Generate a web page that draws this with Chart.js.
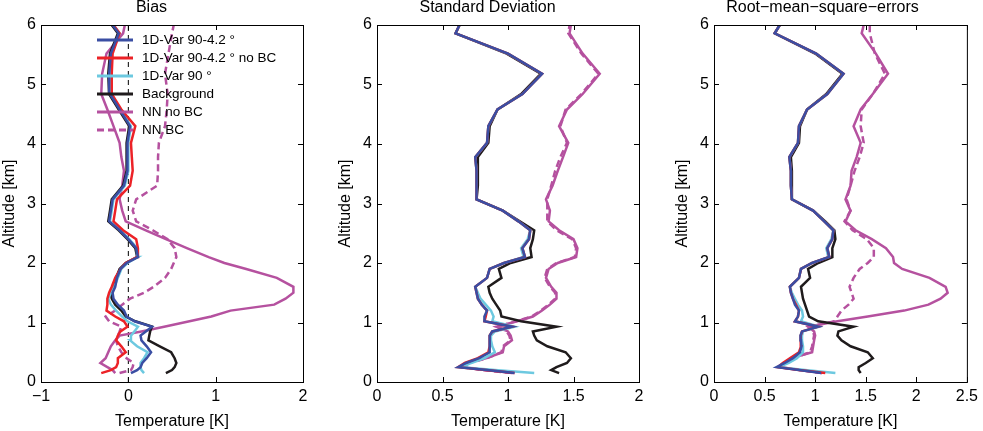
<!DOCTYPE html>
<html lang="en">
<head>
<meta charset="UTF-8">
<title>1D-Var and NN retrieval statistics</title>
<script src="https://cdn.jsdelivr.net/npm/chart.js"></script>
<style>
    body {
        margin: 0;
        background: #fff;
        font-family: 'Liberation Sans', Arial, sans-serif;
    }

    #wrap {
        position: relative;
        width: 983px;
        height: 431px;
        overflow: hidden;
    }

    canvas {
        position: absolute;
        top: 0;
    }

    #biasChart { left: 0; }
    #sdChart { left: 336px; }
    #rmseChart { left: 673px; }
</style>
</head>
<body>
<div id="wrap">
    <canvas id="biasChart" width="318" height="431"></canvas>
    <canvas id="sdChart" width="318" height="431"></canvas>
    <canvas id="rmseChart" width="310" height="431"></canvas>
</div>

<script>
    // altitude levels (km) shared by every profile
    const altitudes = [0.15, 0.2, 0.25, 0.32, 0.4, 0.5, 0.6, 0.7, 0.78, 0.85, 0.93, 1.02, 1.1, 1.2, 1.3, 1.4, 1.5, 1.6, 1.75, 1.9,
        2.0, 2.1, 2.25, 2.4, 2.55, 2.7, 2.88, 3.07, 3.3, 3.55, 3.78, 4.02, 4.3, 4.58, 4.84, 5.18, 5.52, 5.86, 6.0];

    const seriesLabels = ['1D-Var 90-4.2 °', '1D-Var 90-4.2 ° no BC', '1D-Var 90 °', 'Background', 'NN no BC', 'NN BC'];

    const altTicks = [0, 1, 2, 3, 4, 5, 6];
    const biasTicks = [-1, 0, 1, 2];
    const sdTicks = [0, 0.5, 1, 1.5, 2];
    const rmseTicks = [0, 0.5, 1, 1.5, 2, 2.5];

    // bias (K)
    const biasVar = [0.03, 0.1, 0.14, 0.16, 0.21, 0.26, 0.21, 0.15, 0.14, 0.2, 0.27, 0.07, -0.02, -0.05, -0.12, -0.17, -0.18, -0.15, -0.13, -0.09,
        -0.02, 0.11, 0.09, 0.0, -0.1, -0.22, -0.2, -0.18, -0.05, -0.01, -0.01, -0.01, 0.02, -0.1, -0.21, -0.22, -0.2, -0.11, -0.18];
    const biasVarNoBc = [-0.31, -0.2, -0.14, -0.12, -0.12, -0.03, -0.08, -0.14, -0.12, -0.09, -0.01, -0.05, -0.15, -0.25, -0.24, -0.24, -0.22, -0.19, -0.15, -0.09,
        -0.03, 0.1, 0.11, 0.09, -0.06, -0.17, -0.15, -0.13, 0.02, 0.05, 0.04, 0.03, 0.08, -0.08, -0.19, -0.19, -0.18, -0.1, -0.17];
    const biasVar90 = [0.18, 0.15, 0.14, 0.14, 0.18, 0.22, 0.1, 0.02, 0.03, 0.07, 0.11, -0.01, -0.07, -0.14, -0.2, -0.23, -0.2, -0.16, -0.12, -0.08,
        -0.01, 0.11, 0.1, 0.01, -0.09, -0.21, -0.19, -0.17, -0.04, 0.0, 0.0, 0.0, 0.03, -0.09, -0.2, -0.21, -0.19, -0.1, -0.17];
    const biasBackground = [0.43, 0.5, 0.53, 0.55, 0.53, 0.49, 0.36, 0.23, 0.24, 0.25, 0.27, 0.08, -0.03, -0.08, -0.15, -0.19, -0.2, -0.16, -0.14, -0.1,
        -0.03, 0.1, 0.08, -0.01, -0.11, -0.23, -0.21, -0.19, -0.06, -0.02, -0.02, -0.02, 0.01, -0.11, -0.22, -0.23, -0.21, -0.12, -0.19];
    const biasNnNoBc = [-0.15, -0.18, -0.24, -0.32, -0.26, -0.23, -0.2, -0.15, -0.1, 0.15, 0.41, 0.7, 0.95, 1.17, 1.67, 1.8, 1.89, 1.89, 1.7, 1.35,
        1.1, 0.92, 0.67, 0.43, 0.2, -0.03, -0.07, -0.1, -0.07, -0.05, -0.08, -0.1, -0.17, -0.24, -0.31, -0.3, -0.25, -0.06, -0.04];
    const biasNnBc = [-0.1, 0.03, 0.05, 0.06, -0.02, -0.08, -0.12, -0.14, -0.12, -0.1, -0.08, -0.22, -0.26, -0.15, -0.07, 0.02, 0.18, 0.29, 0.42, 0.49,
        0.52, 0.55, 0.53, 0.45, 0.28, 0.09, 0.05, 0.09, 0.33, 0.34, 0.34, 0.35, 0.42, 0.44, 0.45, 0.42, 0.46, 0.5, 0.52];

    // standard deviation (K)
    const sdVar = [1.05, 0.84, 0.62, 0.68, 0.78, 0.86, 0.86, 0.86, 0.86, 0.88, 1.03, 0.82, 0.82, 0.84, 0.8, 0.77, 0.76, 0.75, 0.84, 0.86,
        0.97, 1.13, 1.11, 1.16, 1.17, 1.08, 0.96, 0.76, 0.76, 0.76, 0.75, 0.84, 0.85, 0.92, 1.11, 1.26, 1.0, 0.6, 0.63];
    const sdVarNoBc = [1.05, 0.83, 0.62, 0.67, 0.77, 0.85, 0.86, 0.86, 0.86, 0.88, 1.03, 0.82, 0.83, 0.84, 0.8, 0.77, 0.76, 0.75, 0.84, 0.86,
        0.97, 1.13, 1.11, 1.16, 1.17, 1.08, 0.96, 0.76, 0.76, 0.76, 0.75, 0.84, 0.85, 0.92, 1.11, 1.26, 1.0, 0.6, 0.63];
    const sdVar90 = [1.2, 0.9, 0.65, 0.72, 0.82, 0.9, 0.88, 0.87, 0.87, 0.9, 1.05, 0.88, 0.89, 0.87, 0.83, 0.79, 0.77, 0.75, 0.84, 0.86,
        0.97, 1.12, 1.1, 1.15, 1.17, 1.08, 0.96, 0.76, 0.76, 0.76, 0.75, 0.84, 0.85, 0.92, 1.11, 1.26, 1.0, 0.6, 0.63];
    const sdBackground = [1.39, 1.33, 1.37, 1.45, 1.48, 1.44, 1.3, 1.22, 1.2, 1.19, 1.37, 1.1, 0.95, 0.94, 0.91, 0.88, 0.86, 0.85, 0.95, 0.93,
        1.02, 1.18, 1.17, 1.19, 1.2, 1.09, 0.96, 0.76, 0.77, 0.77, 0.77, 0.85, 0.86, 0.92, 1.1, 1.25, 0.99, 0.6, 0.63];
    const sdNnNoBc = [1.04, 0.82, 0.66, 0.69, 0.83, 0.96, 0.97, 1.03, 1.02, 1.0, 0.91, 1.07, 1.19, 1.26, 1.32, 1.37, 1.37, 1.33, 1.29, 1.31,
        1.38, 1.52, 1.53, 1.5, 1.39, 1.31, 1.32, 1.29, 1.34, 1.38, 1.42, 1.46, 1.39, 1.45, 1.57, 1.7, 1.57, 1.47, 1.48];
    const sdNnBc = [1.03, 0.81, 0.65, 0.7, 0.84, 0.95, 0.96, 1.02, 1.01, 0.99, 0.92, 1.06, 1.18, 1.25, 1.31, 1.36, 1.36, 1.32, 1.28, 1.3,
        1.37, 1.51, 1.52, 1.49, 1.37, 1.3, 1.3, 1.3, 1.33, 1.36, 1.4, 1.45, 1.4, 1.44, 1.56, 1.69, 1.56, 1.46, 1.47];

    // root-mean-square errors (K)
    const rmseVar = [1.06, 0.84, 0.62, 0.7, 0.78, 0.85, 0.865, 0.86, 0.855, 0.87, 1.03, 0.8, 0.83, 0.84, 0.8, 0.78, 0.76, 0.75, 0.84, 0.86,
        0.97, 1.14, 1.12, 1.17, 1.18, 1.09, 0.98, 0.77, 0.76, 0.76, 0.745, 0.83, 0.84, 0.92, 1.12, 1.28, 1.01, 0.6, 0.65];
    const rmseVarNoBc = [1.1, 0.84, 0.63, 0.68, 0.75, 0.84, 0.86, 0.86, 0.855, 0.87, 1.03, 0.8, 0.83, 0.84, 0.81, 0.78, 0.76, 0.75, 0.84, 0.86,
        0.97, 1.14, 1.12, 1.17, 1.18, 1.09, 0.98, 0.77, 0.76, 0.76, 0.745, 0.83, 0.84, 0.92, 1.12, 1.28, 1.01, 0.6, 0.65];
    const rmseVar90 = [1.2, 0.9, 0.64, 0.74, 0.82, 0.88, 0.88, 0.87, 0.87, 0.88, 1.04, 0.86, 0.88, 0.87, 0.83, 0.8, 0.77, 0.75, 0.84, 0.86,
        0.97, 1.13, 1.11, 1.16, 1.18, 1.09, 0.98, 0.77, 0.76, 0.76, 0.745, 0.83, 0.84, 0.92, 1.12, 1.28, 1.01, 0.6, 0.65];
    const rmseBackground = [1.45, 1.43, 1.43, 1.5, 1.57, 1.52, 1.35, 1.26, 1.22, 1.23, 1.38, 1.03, 0.94, 0.92, 0.9, 0.88, 0.87, 0.86, 0.95, 0.93,
        1.03, 1.17, 1.17, 1.2, 1.19, 1.1, 0.98, 0.77, 0.77, 0.77, 0.76, 0.84, 0.85, 0.92, 1.11, 1.27, 1.0, 0.6, 0.65];
    const rmseNnNoBc = [1.07, 0.85, 0.65, 0.7, 0.76, 0.97, 0.98, 0.99, 1.0, 0.99, 0.93, 1.22, 1.52, 1.88, 2.12, 2.24, 2.31, 2.29, 2.13, 1.86,
        1.78, 1.77, 1.7, 1.56, 1.4, 1.3, 1.35, 1.3, 1.35, 1.36, 1.41, 1.45, 1.38, 1.45, 1.57, 1.72, 1.6, 1.46, 1.48];
    const rmseNnBc = [1.07, 0.85, 0.66, 0.71, 0.78, 0.95, 0.97, 0.98, 0.99, 0.98, 0.95, 1.19, 1.22, 1.26, 1.33, 1.38, 1.36, 1.34, 1.38, 1.44,
        1.52, 1.58, 1.58, 1.51, 1.37, 1.29, 1.35, 1.31, 1.35, 1.39, 1.44, 1.48, 1.45, 1.46, 1.57, 1.69, 1.59, 1.54, 1.54];

    // line styles, same order as the labels
    const seriesColors = ['#3a4ea3', '#ec2227', '#6dc9e0', '#1f1b1c', '#b5519f', '#b5519f'];
    const seriesDash = [[], [], [], [], [], [7, 4]];

    const textFont = { family: "'Liberation Sans', Arial, sans-serif", size: 16, weight: 'normal' };

    function profile(values) {
        return values.map((v, i) => ({ x: v, y: altitudes[i] }));
    }

    function buildDatasets(series) {
        return series.map((values, i) => ({
            label: seriesLabels[i],
            data: profile(values),
            showLine: true,
            borderColor: seriesColors[i],
            borderWidth: 2.5,
            borderDash: seriesDash[i],
            pointRadius: 0,
            pointHoverRadius: 0,
            fill: false,
            tension: 0
        }));
    }

    // MATLAB style box with inward ticks
    const frameTicks = {
        id: 'frameTicks',
        afterDatasetsDraw(chart) {
            const { ctx, chartArea: a, scales: { x, y } } = chart;
            ctx.save();
            ctx.strokeStyle = '#000';
            ctx.lineWidth = 1;
            ctx.setLineDash([]);
            ctx.strokeRect(a.left + 0.5, a.top + 0.5, a.right - a.left, a.bottom - a.top);
            ctx.beginPath();
            x.ticks.forEach(t => {
                const px = Math.round(x.getPixelForValue(t.value)) + 0.5;
                ctx.moveTo(px, a.bottom); ctx.lineTo(px, a.bottom - 5);
                ctx.moveTo(px, a.top); ctx.lineTo(px, a.top + 5);
            });
            y.ticks.forEach(t => {
                const py = Math.round(y.getPixelForValue(t.value)) + 0.5;
                ctx.moveTo(a.left, py); ctx.lineTo(a.left + 5, py);
                ctx.moveTo(a.right, py); ctx.lineTo(a.right - 5, py);
            });
            ctx.stroke();
            ctx.restore();
        }
    };

    // legend sits inside the bias panel
    const insideLegend = {
        id: 'insideLegend',
        afterDraw(chart) {
            const { ctx, chartArea: a } = chart;
            const x0 = a.left + 56, y0 = a.top + 15, step = 18;
            ctx.save();
            ctx.font = "13.5px 'Liberation Sans', Arial, sans-serif";
            ctx.textBaseline = 'middle';
            ctx.fillStyle = '#000';
            seriesLabels.forEach((label, i) => {
                const yy = y0 + i * step;
                ctx.strokeStyle = seriesColors[i];
                ctx.lineWidth = 3;
                ctx.setLineDash(seriesDash[i]);
                ctx.beginPath();
                ctx.moveTo(x0, yy);
                ctx.lineTo(x0 + 36, yy);
                ctx.stroke();
                ctx.fillText(label, x0 + 45, yy);
            });
            ctx.restore();
        }
    };

    function makePanel(id, title, series, xMin, xMax, xTicks, rightPad, extraSets, extraPlugins) {
        const sets = buildDatasets(series).concat(extraSets || []);
        return new Chart(document.getElementById(id), {
            type: 'scatter',
            data: { datasets: sets },
            options: {
                responsive: false,
                animation: false,
                events: [],
                layout: { padding: { left: 0, right: rightPad, top: 0, bottom: 0 } },
                plugins: {
                    legend: { display: false },
                    tooltip: { enabled: false },
                    title: {
                        display: true,
                        text: title,
                        color: '#000',
                        font: { ...textFont, lineHeight: 1 },
                        padding: { top: 0, bottom: 9 }
                    }
                },
                scales: {
                    x: {
                        type: 'linear',
                        min: xMin,
                        max: xMax,
                        afterBuildTicks: s => { s.ticks = xTicks.map(v => ({ value: v })); },
                        afterFit: s => { s.height = 49; },
                        grid: { display: false, drawTicks: false },
                        border: { display: false },
                        ticks: {
                            padding: 5,
                            color: '#000',
                            font: textFont,
                            autoSkip: false,
                            maxRotation: 0,
                            callback: v => String(v).replace('-', '\u2212')
                        },
                        title: { display: true, text: 'Temperature [K]', color: '#000', font: textFont, padding: 0 }
                    },
                    y: {
                        type: 'linear',
                        min: 0,
                        max: 6,
                        afterBuildTicks: s => { s.ticks = altTicks.map(v => ({ value: v })); },
                        afterFit: s => { s.width = 41; },
                        grid: { display: false, drawTicks: false },
                        border: { display: false },
                        ticks: { padding: 5, color: '#000', font: textFont, autoSkip: false },
                        title: { display: true, text: 'Altitude [km]', color: '#000', font: textFont, padding: 0 }
                    }
                }
            },
            plugins: [frameTicks].concat(extraPlugins || [])
        });
    }

    // dashed zero reference in the bias panel
    const zeroLine = {
        label: 'zero',
        data: [{ x: 0, y: 0 }, { x: 0, y: 6 }],
        showLine: true,
        borderColor: '#000',
        borderWidth: 1,
        borderDash: [5, 4],
        pointRadius: 0,
        fill: false
    };

    makePanel('biasChart', 'Bias',
        [biasVar, biasVarNoBc, biasVar90, biasBackground, biasNnNoBc, biasNnBc],
        -1, 2, biasTicks, 15, [zeroLine], [insideLegend]);

    makePanel('sdChart', 'Standard Deviation',
        [sdVar, sdVarNoBc, sdVar90, sdBackground, sdNnNoBc, sdNnBc],
        0, 2, sdTicks, 15);

    makePanel('rmseChart', 'Root\u2212mean\u2212square\u2212errors',
        [rmseVar, rmseVarNoBc, rmseVar90, rmseBackground, rmseNnNoBc, rmseNnBc],
        0, 2.5, rmseTicks, 11);
</script>
</body>
</html>
